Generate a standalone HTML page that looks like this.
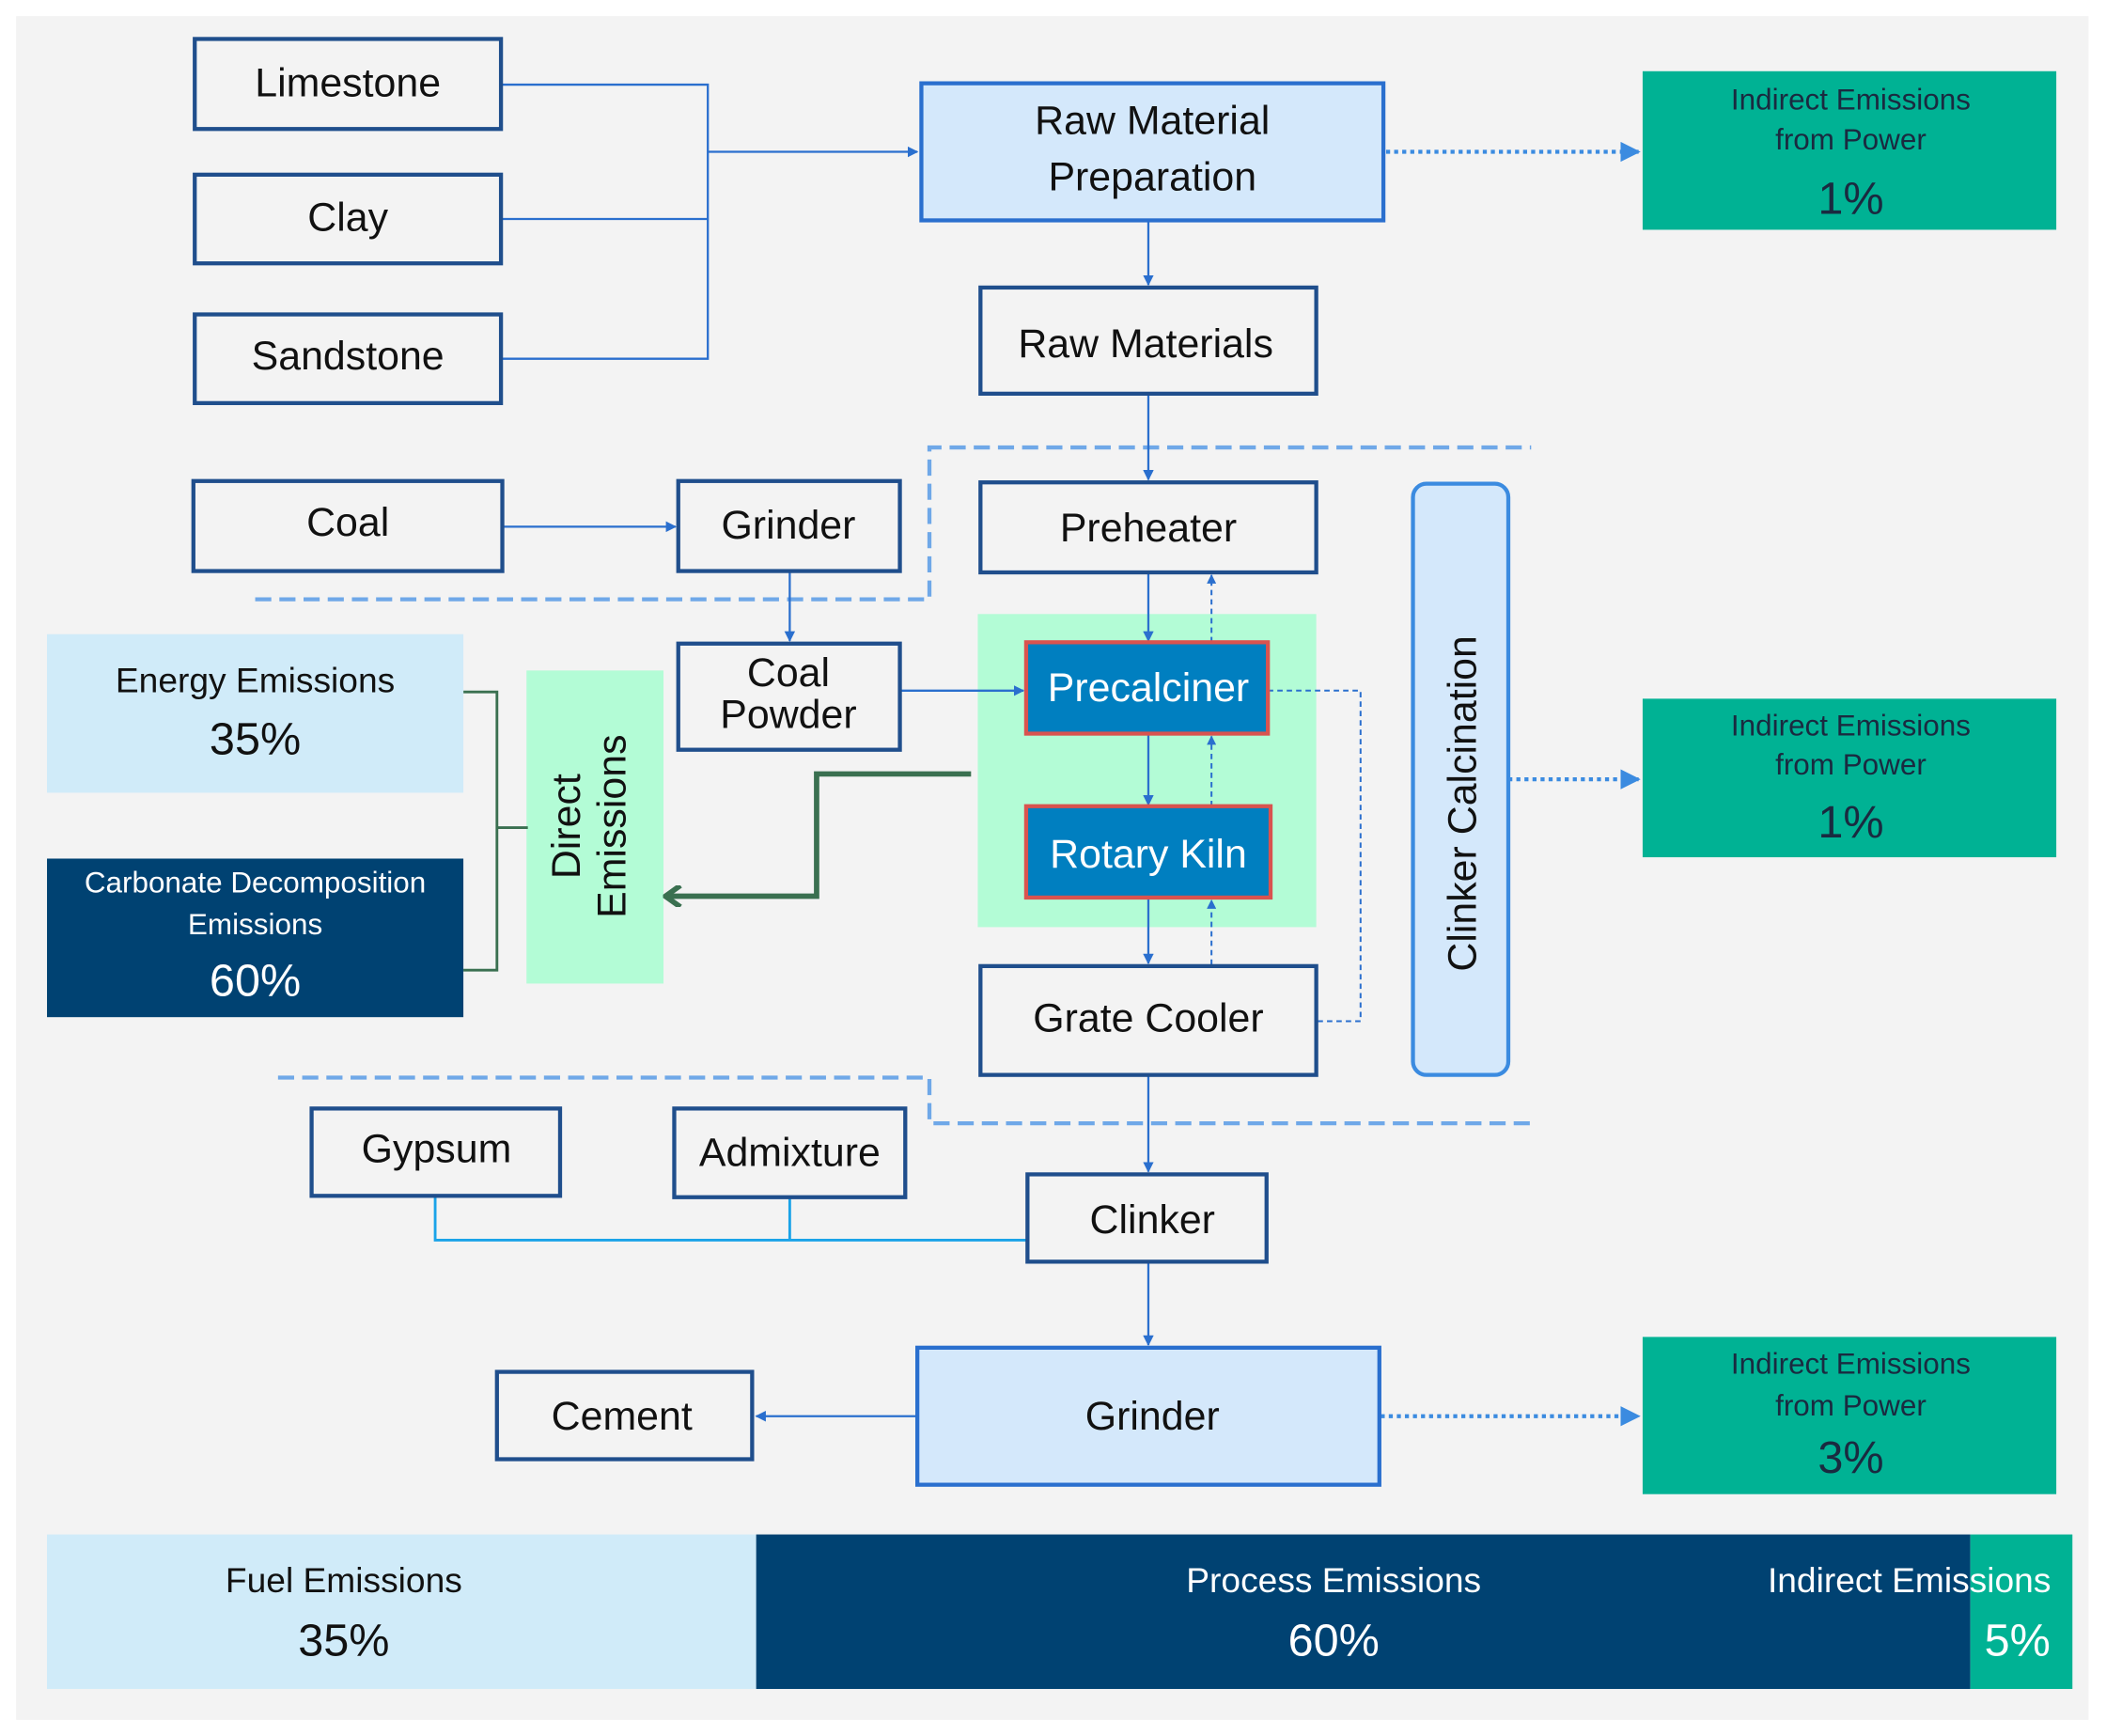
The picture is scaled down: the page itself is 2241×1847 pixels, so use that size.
<!DOCTYPE html>
<html><head><meta charset="utf-8"><style>
html,body{margin:0;padding:0;background:#fff;}
svg{display:block;}
text{font-family:"Liberation Sans",sans-serif;}
</style></head><body>
<svg width="2241" height="1847" viewBox="0 0 1568 1292" preserveAspectRatio="none" xmlns="http://www.w3.org/2000/svg">
<defs>
<marker id="a" viewBox="0 0 10 10" refX="9" refY="5" markerWidth="5" markerHeight="5" orient="auto"><path d="M0,0L10,5L0,10z" fill="#2a6fce"/></marker>
<marker id="b" viewBox="0 0 10 10" refX="9" refY="5" markerWidth="5" markerHeight="5" orient="auto"><path d="M0,0L10,5L0,10z" fill="#3b8be0"/></marker>
<marker id="g" viewBox="0 0 10 10" refX="8" refY="5" markerWidth="4" markerHeight="4" orient="auto"><path d="M2,0L9,5L2,10" fill="none" stroke="#3a7050" stroke-width="2.5"/></marker>
</defs>
<rect x="12" y="12" width="1543" height="1268" fill="#f3f3f3"/>
<g fill="none" stroke="#6fa8e8" stroke-width="3" stroke-dasharray="12 6">
<path d="M190,446H692V333H1140"/>
<path d="M207,802H692V836H1145"/>
</g>
<rect x="728" y="457" width="252" height="233" fill="#b3fcd6"/>
<rect x="392" y="499" width="102" height="233" fill="#b3fcd6"/>
<g fill="none" stroke="#2a6fce" stroke-width="1.6">
<path d="M373,63H527V267H373M373,163H527"/>
<path d="M527,113H683" marker-end="url(#a)"/>
<path d="M855,164V212" marker-end="url(#a)"/>
<path d="M855,293V357" marker-end="url(#a)"/>
<path d="M374,392H503" marker-end="url(#a)"/>
<path d="M588,425V477" marker-end="url(#a)"/>
<path d="M670,514H762" marker-end="url(#a)"/>
<path d="M855,426V477" marker-end="url(#a)"/>
<path d="M855,546V599" marker-end="url(#a)"/>
<path d="M855,668V717" marker-end="url(#a)"/>
<path d="M855,800V872" marker-end="url(#a)"/>
<path d="M855,939V1001" marker-end="url(#a)"/>
<path d="M683,1054H563" marker-end="url(#a)"/>
</g>
<g fill="none" stroke="#2a6fce" stroke-width="1.4" stroke-dasharray="4 3">
<path d="M902,478V428" marker-end="url(#a)"/>
<path d="M902,600V548" marker-end="url(#a)"/>
<path d="M902,718V670" marker-end="url(#a)"/>
<path d="M944,514H1013V760H980"/>
</g>
<g fill="none" stroke="#3b8be0" stroke-width="3" stroke-dasharray="3 3">
<path d="M1032,113H1220" marker-end="url(#b)"/>
<path d="M1123,580H1220" marker-end="url(#b)"/>
<path d="M1028,1054H1220" marker-end="url(#b)"/>
</g>
<path d="M324,890V923H765M588,891V923" fill="none" stroke="#1aa3e8" stroke-width="2"/>
<path d="M345,515H370V722H345M370,616H393" fill="none" stroke="#3a7050" stroke-width="2"/>
<path d="M723,576H608V667H497" fill="none" stroke="#3a7050" stroke-width="4" marker-end="url(#g)"/>
<g fill="#f3f3f3" stroke="#1f4e8c" stroke-width="3">
<rect x="145" y="29" width="228" height="67"/>
<rect x="145" y="130" width="228" height="66"/>
<rect x="145" y="234" width="228" height="66"/>
<rect x="730" y="214" width="250" height="79"/>
<rect x="730" y="359" width="250" height="67"/>
<rect x="144" y="358" width="230" height="67"/>
<rect x="505" y="358" width="165" height="67"/>
<rect x="505" y="479" width="165" height="79"/>
<rect x="730" y="719" width="250" height="81"/>
<rect x="765" y="874" width="178" height="65"/>
<rect x="232" y="825" width="185" height="65"/>
<rect x="502" y="825" width="172" height="66"/>
<rect x="370" y="1021" width="190" height="65"/>
</g>
<g fill="#d4e8fb" stroke="#2a6fce" stroke-width="3">
<rect x="686" y="62" width="344" height="102"/>
<rect x="683" y="1003" width="344" height="102"/>
</g>
<rect x="1052" y="360" width="71" height="440" rx="10" fill="#d4e8fb" stroke="#3b8be0" stroke-width="3"/>
<g fill="#007fc0" stroke="#d9534f" stroke-width="3">
<rect x="764" y="478" width="180" height="68"/>
<rect x="764" y="600" width="182" height="68"/>
</g>
<g fill="#00b294">
<rect x="1223" y="53" width="308" height="118"/>
<rect x="1223" y="520" width="308" height="118"/>
<rect x="1223" y="995" width="308" height="117"/>
</g>
<rect x="35" y="472" width="310" height="118" fill="#d0ebf9"/>
<rect x="35" y="639" width="310" height="118" fill="#004272"/>
<rect x="35" y="1142" width="528" height="115" fill="#d0ebf9"/>
<rect x="563" y="1142" width="904" height="115" fill="#004272"/>
<rect x="1467" y="1142" width="76" height="115" fill="#00b294"/>
<g font-size="30" fill="#111" text-anchor="middle" dominant-baseline="central">
<text x="259" y="62">Limestone</text>
<text x="259" y="162">Clay</text>
<text x="259" y="265">Sandstone</text>
<text x="858" y="90">Raw Material</text>
<text x="858" y="132">Preparation</text>
<text x="853" y="256">Raw Materials</text>
<text x="855" y="393">Preheater</text>
<text x="259" y="389">Coal</text>
<text x="587" y="391">Grinder</text>
<text x="587" y="501">Coal</text>
<text x="587" y="532">Powder</text>
<text x="855" y="758">Grate Cooler</text>
<text x="858" y="908">Clinker</text>
<text x="325" y="855">Gypsum</text>
<text x="588" y="858">Admixture</text>
<text x="858" y="1054">Grinder</text>
<text x="463" y="1054">Cement</text>
<text x="855" y="512" fill="#fff">Precalciner</text>
<text x="855" y="636" fill="#fff">Rotary Kiln</text>
<text transform="translate(1089,598) rotate(-90)">Clinker Calcination</text>
<text transform="translate(422,615) rotate(-90)">Direct</text>
<text transform="translate(456,615) rotate(-90)">Emissions</text>
</g>
<g text-anchor="middle" dominant-baseline="central" fill="#1a2a40">
<text x="1378" y="74" font-size="22">Indirect Emissions</text>
<text x="1378" y="104" font-size="22">from Power</text>
<text x="1378" y="148" font-size="34">1%</text>
<text x="1378" y="540" font-size="22">Indirect Emissions</text>
<text x="1378" y="569" font-size="22">from Power</text>
<text x="1378" y="612" font-size="34">1%</text>
<text x="1378" y="1015" font-size="22">Indirect Emissions</text>
<text x="1378" y="1046" font-size="22">from Power</text>
<text x="1378" y="1085" font-size="34">3%</text>
<text x="190" y="506" font-size="26" fill="#111">Energy Emissions</text>
<text x="190" y="550" font-size="34" fill="#111">35%</text>
<text x="190" y="657" font-size="22" fill="#fff">Carbonate Decomposition</text>
<text x="190" y="688" font-size="22" fill="#fff">Emissions</text>
<text x="190" y="730" font-size="34" fill="#fff">60%</text>
<text x="256" y="1176" font-size="26" fill="#111">Fuel Emissions</text>
<text x="256" y="1221" font-size="34" fill="#111">35%</text>
<text x="993" y="1176" font-size="26" fill="#fff">Process Emissions</text>
<text x="993" y="1221" font-size="34" fill="#fff">60%</text>
<text x="1527" y="1176" font-size="26" fill="#fff" text-anchor="end">Indirect Emissions</text>
<text x="1502" y="1221" font-size="34" fill="#fff">5%</text>
</g>
</svg>
</body></html>
